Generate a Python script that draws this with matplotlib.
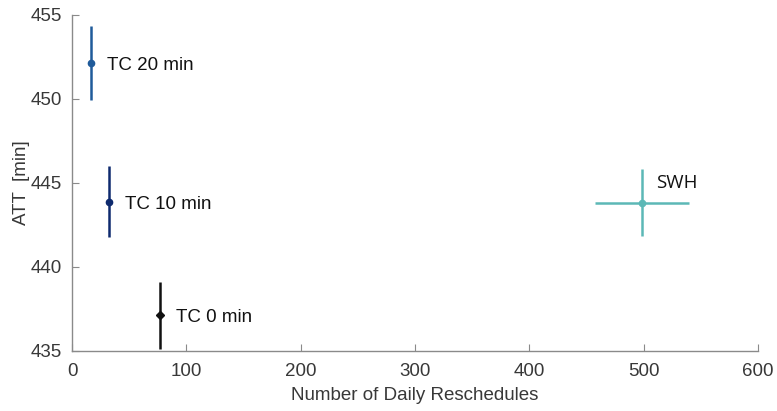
import numpy as np
import matplotlib
matplotlib.use('Agg')
import matplotlib.pyplot as plt

plt.rcParams['font.family'] = ['Liberation Sans', 'DejaVu Sans']

# 时间补偿策略的结果
labels = ['TC 20 min', 'TC 10 min', 'TC 0 min']
resched = [16.6, 32.4, 77.3]
att = [452.14, 443.87, 437.1]
att_err = [2.2, 2.1, 2.0]
colors = ['#1f5b9a', '#0e2a6e', '#111111']
markers = ['o', 'o', 'D']

# SWH
swh_resched = 498.7
swh_resched_err = 41.0
swh_att = 443.81
swh_att_err = 2.0

fig = plt.figure(figsize=(7.77, 4.11), dpi=100)
ax = fig.add_axes([0.0927, 0.1467, 0.8828, 0.8175])

for x, y, e, c, m, lab in zip(resched, att, att_err, colors, markers, labels):
    ax.errorbar(x, y, yerr=e, fmt=m, color=c, ms=4.5 if m == 'o' else 4,
                elinewidth=1.8, capsize=0, clip_on=True)
    ax.text(x + 14, y - 0.15, lab, fontsize=13.5, color='#111111', va='center', ha='left')

ax.errorbar(swh_resched, swh_att, xerr=swh_resched_err, yerr=swh_att_err, fmt='o',
            color='#5cb8b6', ms=4.5, elinewidth=1.8, capsize=0)
ax.text(swh_resched + 12, swh_att + 1.15, 'SWH', fontsize=13.5, color='#111111',
        va='center', ha='left', family=['Open Sans', 'DejaVu Sans'])

ax.set_xlim(0, 600)
ax.set_ylim(435, 455)
ax.set_xticks(np.arange(0, 601, 100))
ax.set_yticks(np.arange(435, 456, 5))
ax.spines['top'].set_visible(False)
ax.spines['right'].set_visible(False)
for s in ['left', 'bottom']:
    ax.spines[s].set_color('#8a8a8a')
    ax.spines[s].set_linewidth(1.0)
ax.tick_params(direction='in', length=5, color='#8a8a8a', labelsize=13.5,
               labelcolor='#383838')
ax.tick_params(axis='x', pad=9)
ax.tick_params(axis='y', pad=7)
ax.set_xlabel('Number of Daily Reschedules', fontsize=13.5, color='#383838', labelpad=5)
ax.set_ylabel('ATT  [min]', fontsize=13.5, color='#383838', labelpad=1)

fig.savefig('out.png', dpi=100)
